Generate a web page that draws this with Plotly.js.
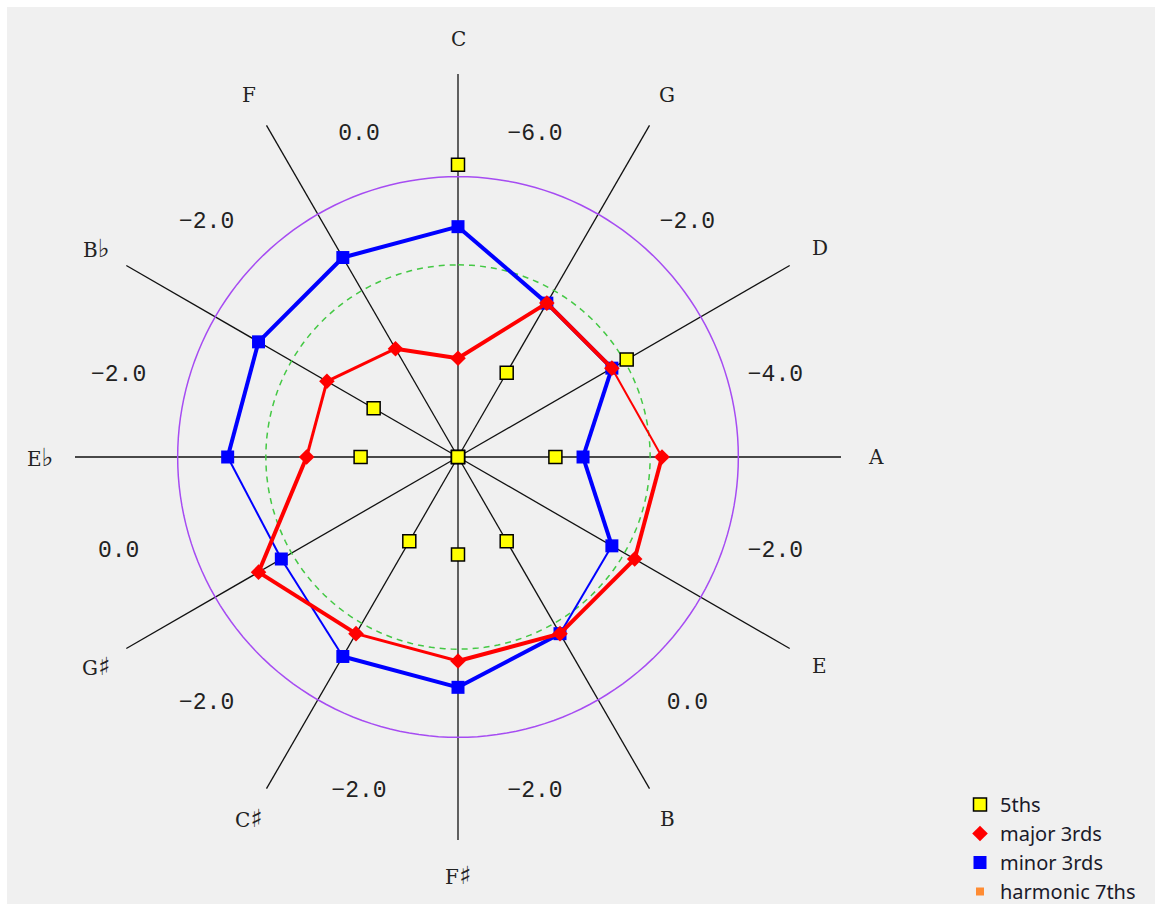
<!DOCTYPE html>
<html>
<head>
<meta charset="utf-8">
<script src="https://cdn.plot.ly/plotly-3.0.1.min.js"></script>
<style>
  html, body { margin: 0; padding: 0; background: #ffffff; }
  #chart { position: absolute; left: 7px; top: 7px; width: 1148px; height: 897px; }
</style>
</head>
<body>
<div id="chart"></div>
<script>
// Circle of fifths, clockwise from the top
const notes = ['C', 'G', 'D', 'A', 'E', 'B', 'F♯', 'C♯', 'G♯', 'E♭', 'B♭', 'F'];
// Tempering of the fifth from each note to the next one, in cents
const fifthTempering = [-6.0, -2.0, -4.0, -2.0, 0.0, -2.0, -2.0, -2.0, 0.0, -2.0, -2.0, 0.0];
// Deviation from pure of the thirds built on each note, in cents
const majorThirds = [7.5, 13.5, 13.5, 15.5, 15.5, 15.5, 15.5, 15.5, 17.5, 11.5, 11.5, 9.5];
const minorThirds = [17.5, 13.5, 13.5, 9.5, 13.5, 15.5, 17.5, 17.5, 15.5, 17.5, 17.5, 17.5];
// No harmonic sevenths are plotted for this tuning
const harmonicSevenths = [null, null, null, null, null, null, null, null, null, null, null, null];
// Reference rings, in cents
const commaRing = 21.3;
const averageRing = 14.6;

// ---- drawing settings ----
const FIFTH_GAIN = 3.7;          // fifths are magnified on the shared radial axis
const RANGE_MAX = 29.1;          // spoke length in radial units
const RADIUS_PX = 383;           // polar radius on screen
const PX = RADIUS_PX / RANGE_MAX;
const majorSegWidth = [4, 4, 2, 4, 4, 4, 3, 4, 4, 3, 3, 4];
const minorSegWidth = [4, 4, 4, 4, 2, 4, 4, 2, 2, 4, 4, 4];
const W = 1148, H = 897, CX = 451, CY = 450;

const theta = notes.map((_, i) => i * 30);
const fifthR = fifthTempering.map(t => -t * FIFTH_GAIN);

// polyline pieces of one width, closed round the circle
function segments(vals, widths, w) {
  const r = [], th = [];
  for (let i = 0; i < vals.length; i++) {
    if (widths[i] !== w) continue;
    const j = (i + 1) % vals.length;
    r.push(vals[i], vals[j], null);
    th.push(theta[i], theta[j] === 0 ? 360 : theta[j], null);
  }
  return { r, th };
}

function ring(value) {
  const th = [];
  for (let a = 0; a <= 360; a += 2) th.push(a);
  return { r: th.map(() => value), theta: th };
}

// screen offset (px) -> polar point
function fromScreen(x, y) {
  const rr = Math.sqrt(x * x + y * y) / PX;
  let a = Math.atan2(x, -y) * 180 / Math.PI;
  if (a < 0) a += 360;
  return [rr, a];
}

const traces = [];

const commaR = ring(commaRing);
traces.push({ type: 'scatterpolar', mode: 'lines', r: commaR.r, theta: commaR.theta,
  line: { color: '#a64cf2', width: 1.5 }, showlegend: false, hoverinfo: 'skip' });
const avgR = ring(averageRing);
traces.push({ type: 'scatterpolar', mode: 'lines', r: avgR.r, theta: avgR.theta,
  line: { color: '#44c844', width: 1.5, dash: '6px,5px' }, showlegend: false, hoverinfo: 'skip' });

function addSeries(vals, widths, color, symbol, size, name, rank) {
  [2, 3, 4].forEach(w => {
    const s = segments(vals, widths, w);
    if (!s.r.length) return;
    traces.push({ type: 'scatterpolar', mode: 'lines', r: s.r, theta: s.th,
      line: { color: color, width: w }, showlegend: false, hoverinfo: 'skip', connectgaps: false });
  });
  traces.push({ type: 'scatterpolar', mode: 'markers', r: vals, theta: theta, name: name,
    legendrank: rank, marker: { color: color, symbol: symbol, size: size } });
}

addSeries(minorThirds, minorSegWidth, '#0000ff', 'square', 13, 'minor 3rds', 3);
addSeries(majorThirds, majorSegWidth, '#ff0000', 'diamond', 12, 'major 3rds', 2);

traces.push({ type: 'scatterpolar', mode: 'markers', r: fifthR, theta: theta, name: '5ths',
  legendrank: 1, marker: { color: '#ffff00', symbol: 'square', size: 13, line: { color: '#000000', width: 1.5 } } });

traces.push({ type: 'scatterpolar', mode: 'markers', r: harmonicSevenths, theta: theta, name: 'harmonic 7ths',
  legendrank: 4, marker: { color: '#ff8c33', symbol: 'square', size: 8 } });

// fifth tempering values between the spokes
const tempPos = fifthTempering.map((_, i) => {
  const a = (i * 30 + 15) * Math.PI / 180;
  return fromScreen(340 * Math.sin(a) - 11, -340 * Math.cos(a) + 6);
});
traces.push({ type: 'scatterpolar', mode: 'text', r: tempPos.map(p => p[0]), theta: tempPos.map(p => p[1]),
  text: fifthTempering.map(t => (t === 0 ? '0.0' : '\u2212' + Math.abs(t).toFixed(1))),
  textposition: 'middle center', cliponaxis: false,
  textfont: { family: 'Liberation Mono, DejaVu Sans Mono, monospace', size: 23, color: '#222222' },
  showlegend: false, hoverinfo: 'skip' });

// note names just beyond the spoke ends; accidentals set a little larger
const NOTE_LABEL_PX = 418;
function noteText(n) {
  if (n.length < 2) return n;
  return n[0] + '<span style="font-family:\'DejaVu Sans\';font-size:25px">' + n.slice(1) + '</span>';
}
const annotations = notes.map((n, i) => {
  const a = theta[i] * Math.PI / 180;
  return {
    text: noteText(n), showarrow: false, xref: 'paper', yref: 'paper',
    x: (CX + NOTE_LABEL_PX * Math.sin(a)) / W,
    y: (H - CY + NOTE_LABEL_PX * Math.cos(a)) / H,
    xanchor: 'center', yanchor: 'middle',
    font: { family: 'DejaVu Serif, Liberation Serif, serif', size: 20, color: '#222222' }
  };
});

const layout = {
  width: W, height: H,
  margin: { l: 0, r: 0, t: 0, b: 0, autoexpand: false },
  paper_bgcolor: '#f0f0f0',
  showlegend: true,
  annotations: annotations,
  polar: {
    domain: { x: [(CX - RADIUS_PX) / W, (CX + RADIUS_PX) / W], y: [(H - CY - RADIUS_PX) / H, (H - CY + RADIUS_PX) / H] },
    bgcolor: 'rgba(0,0,0,0)',
    radialaxis: { range: [0, RANGE_MAX], showgrid: false, showline: false, showticklabels: false, ticks: '' },
    angularaxis: { thetaunit: 'degrees', direction: 'clockwise', rotation: 90,
      tickmode: 'array', tickvals: theta, showticklabels: false, ticks: '', showline: false,
      gridcolor: '#111111', gridwidth: 1.3 }
  },
  legend: { x: 953 / W, xanchor: 'left', y: 1 - 778 / H, yanchor: 'top', bgcolor: 'rgba(0,0,0,0)',
    font: { family: 'Noto Sans, Open Sans, sans-serif', size: 20, color: '#1a1a2a' } },
  hovermode: false
};

Plotly.newPlot('chart', traces, layout, { staticPlot: true, displayModeBar: false });
</script>
</body>
</html>
